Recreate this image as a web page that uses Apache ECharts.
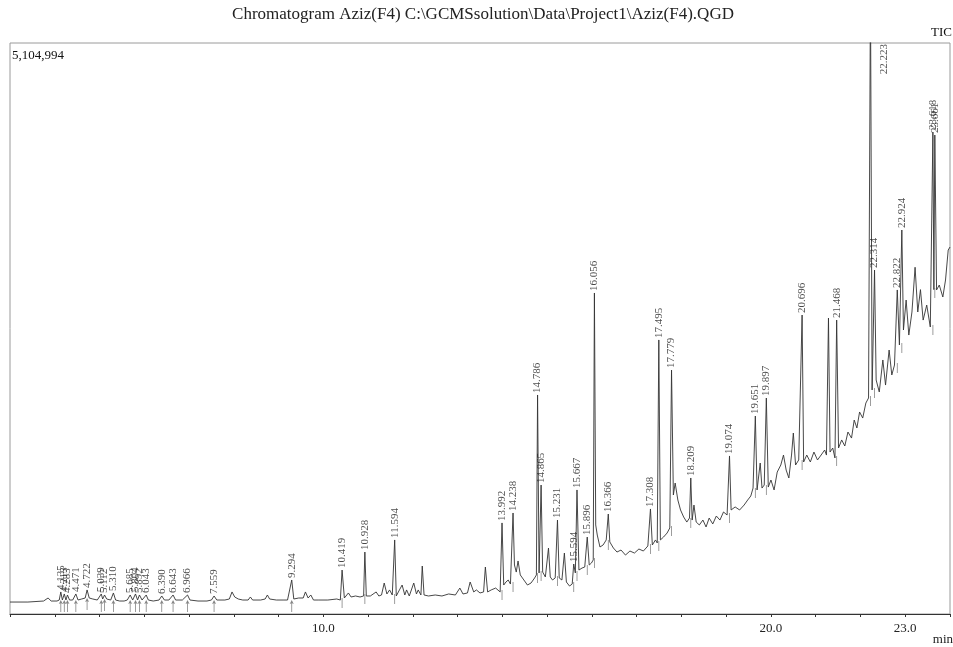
<!DOCTYPE html>
<html><head><meta charset="utf-8">
<script src="https://cdn.jsdelivr.net/npm/echarts@6/dist/echarts.min.js"></script>
<style>html,body{margin:0;padding:0;background:#fff}#c{width:953px;height:647px}</style>
</head><body><div id="c"></div>
<script>
const titleText = 'Chromatogram Aziz(F4) C:\\GCMSsolution\\Data\\Project1\\Aziz(F4).QGD';
const maxIntensity = 5104994;
const xTickLabels = [10, 20, 23];

// TIC trace: [retention time (min), intensity]
const tic = [
[3.00,107000],[3.40,107000],[3.75,116000],[3.85,143000],[3.92,116000],[4.05,116000],[4.10,125000],[4.135,197000],[4.17,125000],[4.213,179000],[4.25,125000],[4.283,170000],[4.33,125000],[4.40,125000],[4.471,179000],[4.52,125000],[4.60,134000],[4.68,143000],[4.722,215000],[4.77,143000],[4.85,134000],[4.95,125000],[5.039,179000],[5.07,134000],[5.112,170000],[5.16,134000],[5.25,125000],[5.310,188000],[5.36,125000],[5.45,116000],[5.55,116000],[5.62,125000],[5.685,170000],[5.74,125000],[5.804,179000],[5.85,125000],[5.892,170000],[5.95,125000],[6.043,170000],[6.09,125000],[6.20,116000],[6.33,125000],[6.390,161000],[6.45,125000],[6.55,125000],[6.643,170000],[6.70,125000],[6.85,125000],[6.966,170000],[7.02,125000],[7.20,116000],[7.40,116000],[7.50,125000],[7.559,161000],[7.62,125000],[7.80,125000],[7.90,134000],[7.96,197000],[8.02,152000],[8.10,134000],[8.20,125000],[8.32,125000],[8.37,152000],[8.42,125000],[8.60,125000],[8.70,134000],[8.75,170000],[8.80,134000],[8.95,125000],[9.10,125000],[9.20,125000],[9.294,304000],[9.34,134000],[9.45,143000],[9.55,143000],[9.60,197000],[9.66,143000],[9.72,170000],[9.78,125000],[9.90,125000],[10.10,125000],[10.30,134000],[10.38,125000],[10.419,393000],[10.47,143000],[10.56,188000],[10.62,152000],[10.72,161000],[10.82,152000],[10.90,161000],[10.928,554000],[10.96,161000],[11.05,161000],[11.18,197000],[11.24,161000],[11.30,170000],[11.36,277000],[11.42,179000],[11.48,215000],[11.54,170000],[11.594,662000],[11.63,161000],[11.70,215000],[11.76,259000],[11.82,170000],[11.86,215000],[11.92,161000],[12.02,277000],[12.08,179000],[12.12,215000],[12.18,170000],[12.21,429000],[12.25,170000],[12.35,161000],[12.50,170000],[12.65,161000],[12.80,179000],[12.95,170000],[13.05,232000],[13.12,179000],[13.22,188000],[13.28,286000],[13.36,197000],[13.42,215000],[13.50,188000],[13.58,197000],[13.62,420000],[13.67,197000],[13.75,215000],[13.85,232000],[13.95,197000],[13.992,814000],[14.03,259000],[14.08,286000],[14.13,304000],[14.18,268000],[14.238,903000],[14.27,438000],[14.31,375000],[14.35,474000],[14.40,349000],[14.48,304000],[14.56,259000],[14.64,277000],[14.72,322000],[14.76,349000],[14.786,1958000],[14.82,367000],[14.865,1153000],[14.90,375000],[14.96,331000],[15.03,590000],[15.07,331000],[15.12,304000],[15.18,322000],[15.231,840000],[15.27,322000],[15.33,304000],[15.385,545000],[15.43,286000],[15.50,250000],[15.56,268000],[15.594,447000],[15.63,367000],[15.667,1109000],[15.71,393000],[15.78,411000],[15.84,420000],[15.896,688000],[15.94,438000],[15.99,456000],[16.03,483000],[16.056,2870000],[16.085,796000],[16.12,706000],[16.18,599000],[16.25,617000],[16.32,662000],[16.366,894000],[16.40,644000],[16.48,590000],[16.56,554000],[16.65,572000],[16.75,527000],[16.85,563000],[16.95,545000],[17.05,581000],[17.15,563000],[17.25,608000],[17.308,939000],[17.35,617000],[17.42,662000],[17.46,635000],[17.495,2450000],[17.53,662000],[17.60,688000],[17.68,724000],[17.74,769000],[17.779,2181000],[17.82,1064000],[17.86,1171000],[17.92,1019000],[17.98,930000],[18.05,867000],[18.12,822000],[18.18,858000],[18.209,1216000],[18.24,840000],[18.28,974000],[18.33,822000],[18.40,796000],[18.48,840000],[18.55,778000],[18.62,858000],[18.70,805000],[18.78,876000],[18.86,840000],[18.94,912000],[19.02,885000],[19.074,1413000],[19.11,930000],[19.20,957000],[19.30,930000],[19.40,974000],[19.48,1019000],[19.55,1055000],[19.60,1126000],[19.651,1770000],[19.69,1109000],[19.76,1350000],[19.80,1126000],[19.85,1153000],[19.897,1931000],[19.94,1135000],[20.00,1198000],[20.07,1109000],[20.14,1269000],[20.22,1332000],[20.28,1421000],[20.34,1287000],[20.40,1216000],[20.46,1421000],[20.50,1618000],[20.55,1332000],[20.62,1377000],[20.696,2673000],[20.73,1359000],[20.80,1421000],[20.88,1359000],[20.96,1448000],[21.04,1377000],[21.12,1421000],[21.20,1466000],[21.24,1421000],[21.285,2646000],[21.32,1448000],[21.38,1484000],[21.43,1395000],[21.468,2628000],[21.51,1484000],[21.58,1556000],[21.65,1502000],[21.72,1627000],[21.80,1573000],[21.86,1734000],[21.92,1663000],[21.98,1806000],[22.05,1752000],[22.12,1886000],[22.18,1931000],[22.223,5600000],[22.26,2003000],[22.314,3075000],[22.35,2092000],[22.42,1985000],[22.50,2271000],[22.56,2047000],[22.64,2360000],[22.70,2137000],[22.76,2226000],[22.822,2897000],[22.87,2405000],[22.924,3433000],[22.96,2539000],[23.02,2807000],[23.08,2494000],[23.15,2700000],[23.22,3100000],[23.28,2700000],[23.34,2900000],[23.40,2628000],[23.48,2762000],[23.56,2566000],[23.618,4309000],[23.64,2900000],[23.661,4282000],[23.70,2897000],[23.76,2941000],[23.84,2834000],[23.90,2986000],[23.96,3254000],[24.00,3281000]
];

// labelled peaks (retention times, min)
const peakRT = [4.135,4.213,4.283,4.471,4.722,5.039,5.112,5.310,5.685,5.804,5.892,6.043,6.390,6.643,6.966,7.559,9.294,10.419,10.928,11.594,13.992,14.238,14.786,14.865,15.231,15.594,15.667,15.896,16.056,16.366,17.308,17.495,17.779,18.209,19.074,19.651,19.897,20.696,21.468,22.223,22.314,22.822,22.924,23.618,23.661];
const clippedPeak = 22.223;
const arrowBefore = 10; // peaks before this time carry arrow markers

const chart = echarts.init(document.getElementById('c'), null, {renderer: 'canvas'});
const idxOf = rt => tic.findIndex(d => Math.abs(d[0] - rt) < 1e-6);
const labelData = peakRT.map(rt => {
  const i = idxOf(rt);
  const item = { value: [rt, Math.min(tic[i][1], maxIntensity)] };
  if (rt === clippedPeak) {
    item.label = { position: [14, 1], align: 'right', verticalAlign: 'middle', rotate: 90 };
  }
  return item;
});
// peak start markers sit on the trace at the foot of each peak
const markerData = peakRT.map(rt => {
  const i = idxOf(rt);
  const foot = Math.min(tic[i - 1][1], tic[i + 1][1]);
  return rt < arrowBefore
    ? { value: [rt, foot], symbol: 'path://M2,0 L4,4 L2.4,3.2 L2.4,12 L1.6,12 L1.6,3.2 L0,4 Z', symbolSize: [4, 12], symbolOffset: [0, 6] }
    : { value: [rt, foot], symbol: 'rect', symbolSize: [0.8, 10], symbolOffset: [0, 3] };
});
const serif = '"Liberation Serif", "Times New Roman", serif';

const option = {
  animation: false,
  backgroundColor: '#fff',
  grid: { left: 10, right: 2, top: 43, bottom: 33, show: true, borderColor: '#9a9a9a', borderWidth: 1 },
  xAxis: {
    type: 'value', min: 3, max: 24, interval: 1,
    axisLine: { lineStyle: { color: '#333', width: 1 } },
    axisTick: { show: true, length: 3, lineStyle: { color: '#333' } },
    axisLabel: { formatter: v => xTickLabels.includes(v) ? v.toFixed(1) : '', fontFamily: serif, fontSize: 13, color: '#222', margin: 8 },
    splitLine: { show: false }
  },
  yAxis: { type: 'value', min: 0, max: maxIntensity, show: false, splitLine: { show: false } },
  series: [
    { type: 'line', data: tic, symbol: 'none', showSymbol: false, clip: true,
      lineStyle: { color: '#333', width: 0.9 }, z: 2 },
    { type: 'scatter', data: markerData, clip: false, z: 2,
      itemStyle: { color: '#666' } },
    { type: 'scatter', data: labelData, symbolSize: 0, clip: false, z: 3,
      label: { show: true, formatter: p => p.value[0].toFixed(3), rotate: 90, position: 'top', distance: 2,
               align: 'left', verticalAlign: 'middle', fontFamily: serif, fontSize: 11, color: '#1a1a1a' } }
  ],
  graphic: [
    { type: 'text', x: 483, y: 6, style: { text: titleText, font: '17px ' + serif, fill: '#222', align: 'center', textAlign: 'center', verticalAlign: 'top', textVerticalAlign: 'top' } },
    { type: 'text', x: 952, y: 26, style: { text: 'TIC', font: '13px ' + serif, fill: '#111', align: 'right', textAlign: 'right', verticalAlign: 'top', textVerticalAlign: 'top' } },
    { type: 'text', x: 12, y: 49, style: { text: '5,104,994', font: '13px ' + serif, fill: '#111', align: 'left', textAlign: 'left', verticalAlign: 'top', textVerticalAlign: 'top' } },
    { type: 'text', x: 953, y: 633, style: { text: 'min', font: '13px ' + serif, fill: '#222', align: 'right', textAlign: 'right', verticalAlign: 'top', textVerticalAlign: 'top' } }
  ]
};
chart.setOption(option);
</script></body></html>
